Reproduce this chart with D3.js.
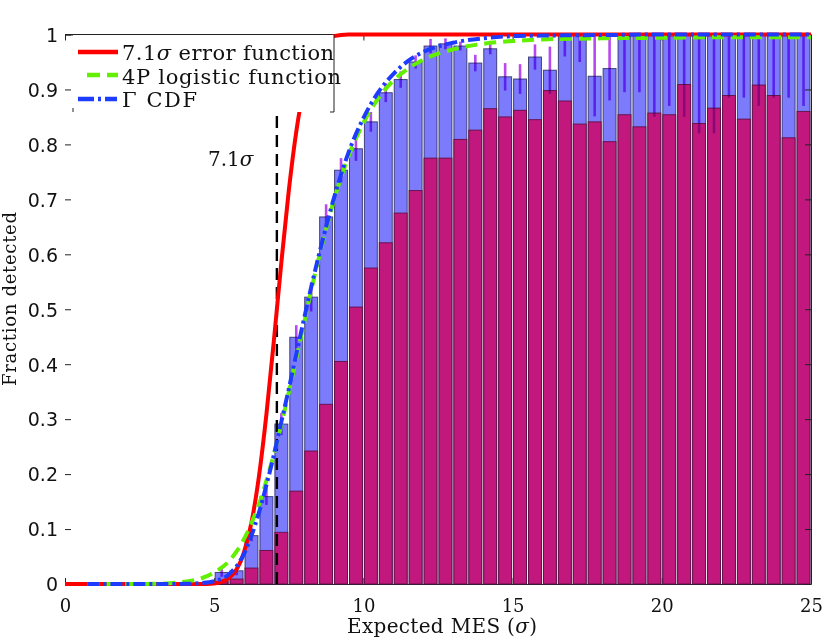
<!DOCTYPE html>
<html><head><meta charset="utf-8">
<script src="https://cdn.jsdelivr.net/npm/d3@7"></script>
<style>body{margin:0;background:#fff}</style>
</head><body><svg id="c" width="830" height="644"></svg>
<script>
// ---- data ----
const binCenters = [5.25,5.75,6.25,6.75,7.25,7.75,8.25,8.75,9.25,9.75,10.25,10.75,11.25,11.75,12.25,12.75,13.25,13.75,14.25,14.75,15.25,15.75,16.25,16.75,17.25,17.75,18.25,18.75,19.25,19.75,20.25,20.75,21.25,21.75,22.25,22.75,23.25,23.75,24.25,24.75];
const binWidth = 0.5;
const detected = [0.021,0.024,0.088,0.159,0.291,0.449,0.522,0.668,0.753,0.792,0.841,0.894,0.918,0.950,0.979,0.983,0.979,0.948,0.974,0.923,0.919,0.959,0.935,1.0,1.0,0.924,0.938,1.0,1.0,1.0,1.0,1.0,1.0,1.0,1.0,1.0,1.0,1.0,1.0,1.0];
const detectedSubset = [0.004,0.009,0.029,0.061,0.094,0.169,0.242,0.327,0.405,0.504,0.575,0.621,0.675,0.716,0.775,0.775,0.809,0.826,0.865,0.850,0.862,0.845,0.898,0.879,0.837,0.841,0.805,0.854,0.832,0.857,0.854,0.909,0.838,0.866,0.889,0.846,0.908,0.889,0.812,0.860];
const detectedErr = [0.008,0.008,0.01,0.015,0.02,0.022,0.026,0.023,0.022,0.022,0.018,0.017,0.015,0.012,0.013,0.010,0.008,0.015,0.010,0.025,0.027,0.023,0.043,0.040,0.050,0.073,0.058,0.105,0.105,0.150,0.130,0.150,0.180,0.180,0.115,0.115,0.130,0.115,0.115,0.130];

const erfX          = [0,1,2,3,3.5,4,4.5,5,5.5,6,6.25,6.5,6.75,7,7.25,7.5,7.75,8,8.25,8.5,8.75,9,9.5,10,10.5,11,11.5,12,13,14,15,16,18,20,22,25];
const erfCurve      = [0,0,0,0,0,0,0,0.001,0.011,0.058,0.112,0.196,0.309,0.443,0.585,0.716,0.823,0.901,0.950,0.977,0.991,0.997,1,1,1,1,1,1,1,1,1,1,1,1,1,1];
const fitX          = [0.75,1,2,3,3.5,4,4.5,5,5.5,6,6.25,6.5,6.75,7,7.25,7.5,7.75,8,8.25,8.5,8.75,9,9.5,10,10.5,11,11.5,12,13,14,15,16,18,20,22,25];
const logisticCurve = [0,0,0,0.0005,0.0015,0.004,0.009,0.021,0.042,0.082,0.111,0.145,0.188,0.236,0.290,0.349,0.410,0.472,0.534,0.592,0.646,0.696,0.778,0.839,0.884,0.916,0.938,0.954,0.973,0.983,0.988,0.991,0.993,0.994,0.995,0.995];
const gammaCurve    = [0,0,0,0,0,0.0003,0.0015,0.005,0.018,0.055,0.088,0.130,0.180,0.235,0.295,0.355,0.418,0.480,0.540,0.597,0.650,0.700,0.785,0.848,0.895,0.928,0.952,0.968,0.985,0.993,0.997,0.998,0.999,1,1,1];

const threshold = 7.1;
const xTicks = [0,5,10,15,20,25];
const xTickLabels = ["0","5","10","15","20","25"];
const yTicks = [0,0.1,0.2,0.3,0.4,0.5,0.6,0.7,0.8,0.9,1];
const yTickLabels = ["0","0.1","0.2","0.3","0.4","0.5","0.6","0.7","0.8","0.9","1"];
const legendLabels = ["error function","4P logistic function","\u0393 CDF"];

// ---- drawing ----
const svg = d3.select("#c");
const x = d3.scaleLinear().domain([0,25]).range([65,811]);
const y = d3.scaleLinear().domain([0,1]).range([584,34.5]);
const serif = "'DejaVu Serif', serif";
const sans = "'DejaVu Sans', sans-serif";

svg.append("defs").append("clipPath").attr("id","plotclip")
  .append("rect").attr("x",x(0)).attr("y",y(1)).attr("width",x(25)-x(0)).attr("height",y(0)-y(1));

// axes (ticks inward)
const gL = svg.append("g").attr("transform",`translate(${x(0)},0)`)
  .call(d3.axisLeft(y).tickValues(yTicks).tickFormat((d,i)=>yTickLabels[i]).tickSize(-6).tickSizeOuter(0).tickPadding(7));
gL.select(".domain").remove();
gL.selectAll("text").attr("font-family",sans).attr("font-size",19).attr("fill","#111").attr("dy","0.36em");
gL.selectAll("line").attr("stroke","#222");

const gT = svg.append("g").attr("transform",`translate(0,${y(1)})`)
  .call(d3.axisTop(x).tickValues(xTicks).tickFormat("").tickSize(-6).tickSizeOuter(0));
gT.selectAll("line,path").attr("stroke","#222");

const gB = svg.append("g").attr("transform",`translate(0,${y(0)})`)
  .call(d3.axisBottom(x).tickValues(xTicks).tickFormat((d,i)=>xTickLabels[i]).tickSize(-6).tickSizeOuter(0).tickPadding(0));
gB.selectAll("line,path").attr("stroke","#222");
gB.selectAll("text").attr("font-family",serif).attr("font-size",18).attr("fill","#111").attr("y",28).attr("dy",0);

// bars
const bars = svg.append("g");
binCenters.forEach((c,i)=>{
  const x0 = x(c-binWidth/2)+1, x1 = x(c+binWidth/2)-1;
  bars.append("rect").attr("x",x0).attr("width",x1-x0)
    .attr("y",y(detected[i])).attr("height",y(0)-y(detected[i]))
    .attr("fill","#7b7bfc").attr("stroke","#2e2e66").attr("stroke-width",1).attr("stroke-opacity",0.85);
  bars.append("rect").attr("x",x0).attr("width",x1-x0)
    .attr("y",y(detectedSubset[i])).attr("height",y(0)-y(detectedSubset[i]))
    .attr("fill","#c2187d").attr("stroke","#5e0c3e").attr("stroke-width",1).attr("stroke-opacity",0.85);
});

const gR = svg.append("g").attr("transform",`translate(${x(25)},0)`)
  .call(d3.axisRight(y).tickValues(yTicks).tickFormat("").tickSize(-6).tickSizeOuter(0));
gR.selectAll("line,path").attr("stroke","#222");

// error bars
const eb = svg.append("g").attr("clip-path","url(#plotclip)").style("mix-blend-mode","multiply");
binCenters.forEach((c,i)=>{
  eb.append("line").attr("x1",x(c)).attr("x2",x(c))
    .attr("y1",y(Math.min(1.02,detected[i]+detectedErr[i]))).attr("y2",y(detected[i]-detectedErr[i]))
    .attr("stroke","#b848f0").attr("stroke-width",2.6);
});

// threshold dashed line
svg.append("line").attr("x1",x(threshold)).attr("x2",x(threshold)).attr("y1",y(0)).attr("y2",y(1))
  .attr("stroke","#000").attr("stroke-width",2.4).attr("stroke-dasharray","12,7");

// top frame line
svg.append("line").attr("x1",x(0)).attr("x2",x(25)).attr("y1",y(1)).attr("y2",y(1)).attr("stroke","#222").attr("stroke-width",1);

// curves
const line = d3.line().x(d=>x(d[0])).y(d=>y(d[1])).curve(d3.curveMonotoneX);
svg.append("path").attr("d",line(erfX.map((v,i)=>[v,erfCurve[i]]))).attr("fill","none").attr("stroke","#ff0000").attr("stroke-width",4);
svg.append("path").attr("d",line(fitX.map((v,i)=>[v,logisticCurve[i]]))).attr("fill","none").attr("stroke","#62f000").attr("stroke-width",4).attr("stroke-dasharray","12,7");
svg.append("path").attr("d",line(fitX.map((v,i)=>[v,gammaCurve[i]]))).attr("fill","none").attr("stroke","#1e3cff").attr("stroke-width",4).attr("stroke-dasharray","12,4,3,4");

// legend
const lg = svg.append("g");
lg.append("rect").attr("x",73).attr("y",y(1)+0.5).attr("width",334-73).attr("height",112-y(1)-0.5).attr("fill","#fff");
lg.append("line").attr("x1",334).attr("x2",334).attr("y1",y(1)).attr("y2",112).attr("stroke","#222").attr("stroke-width",1);
lg.append("line").attr("x1",330).attr("x2",334).attr("y1",112).attr("y2",112).attr("stroke","#222").attr("stroke-width",1);
lg.append("line").attr("x1",73).attr("x2",73).attr("y1",108).attr("y2",112).attr("stroke","#222").attr("stroke-width",1);

lg.append("line").attr("x1",78).attr("x2",118).attr("y1",52).attr("y2",52).attr("stroke","#ff0000").attr("stroke-width",4.5);
lg.append("line").attr("x1",87).attr("x2",118).attr("y1",75).attr("y2",75).attr("stroke","#62f000").attr("stroke-width",4.5).attr("stroke-dasharray","13,7");
lg.append("line").attr("x1",78).attr("x2",117).attr("y1",99).attr("y2",99).attr("stroke","#1e3cff").attr("stroke-width",4.5).attr("stroke-dasharray","16,4,3,4");

const t1 = lg.append("text").attr("x",122).attr("y",60).attr("font-family",serif).attr("font-size",21).attr("fill","#111").attr("textLength",212);
t1.append("tspan").text("7.1");
t1.append("tspan").attr("font-style","italic").text("\u03c3");
t1.append("tspan").text(" "+legendLabels[0]);
lg.append("text").attr("x",122).attr("y",83.5).attr("font-family",serif).attr("font-size",21).attr("fill","#111").attr("textLength",219).text(legendLabels[1]);
lg.append("text").attr("x",122).attr("y",107).attr("font-family",serif).attr("font-size",21).attr("fill","#111").attr("textLength",75).text(legendLabels[2]);

// annotation
const ta = svg.append("text").attr("x",208).attr("y",166).attr("font-family",serif).attr("font-size",20).attr("fill","#111");
ta.append("tspan").text("7.1");
ta.append("tspan").attr("font-style","italic").text("\u03c3");

// axis titles
const xl = svg.append("text").attr("x",442).attr("y",633).attr("text-anchor","middle").attr("font-family",serif).attr("font-size",20).attr("fill","#111").attr("textLength",190);
xl.append("tspan").text("Expected MES (");
xl.append("tspan").attr("font-style","italic").text("\u03c3");
xl.append("tspan").text(")");
svg.append("text").attr("transform","translate(15.5,299) rotate(-90)").attr("text-anchor","middle")
  .attr("font-family",serif).attr("font-size",18).attr("fill","#111").attr("textLength",174).text("Fraction detected");
</script></body></html>
